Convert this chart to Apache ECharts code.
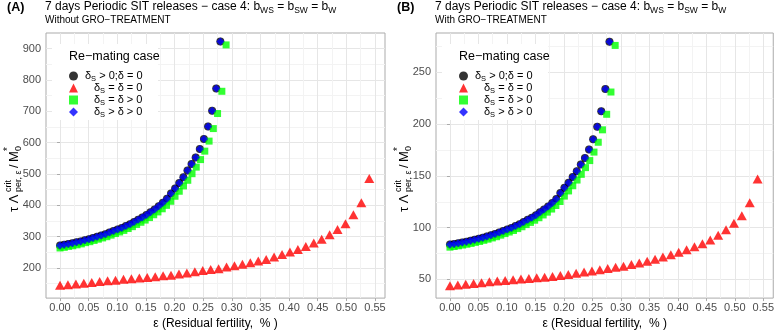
<!DOCTYPE html>
<html><head><meta charset="utf-8">
<script src="https://cdn.jsdelivr.net/npm/echarts@6/dist/echarts.min.js"></script>
<style>html,body{margin:0;padding:0;background:#fff}#c{width:777px;height:335px}</style>
</head><body><div id="c"></div>
<script>
// ---------- data ----------
const xBlue = [0.0000,0.0072,0.0144,0.0215,0.0287,0.0359,0.0431,0.0503,0.0574,0.0646,
  0.0718,0.0790,0.0862,0.0933,0.1005,0.1077,0.1149,0.1221,0.1292,0.1364,
  0.1436,0.1508,0.1579,0.1651,0.1723,0.1795,0.1867,0.1938,0.2010,0.2082,
  0.2154,0.2226,0.2297,0.2369,0.2441,0.2513,0.2585,0.2656,0.2728,0.2800];
const xGreen = [0.0000,0.0074,0.0149,0.0223,0.0297,0.0372,0.0446,0.0521,0.0595,0.0669,
  0.0744,0.0818,0.0892,0.0967,0.1041,0.1115,0.1190,0.1264,0.1338,0.1413,
  0.1487,0.1562,0.1636,0.1710,0.1785,0.1859,0.1933,0.2008,0.2082,0.2156,
  0.2231,0.2305,0.2379,0.2454,0.2528,0.2603,0.2677,0.2751,0.2826,0.2900];
const xRed = [0.0000,0.0138,0.0277,0.0415,0.0554,0.0692,0.0831,0.0969,0.1108,0.1246,
  0.1385,0.1523,0.1662,0.1800,0.1938,0.2077,0.2215,0.2354,0.2492,0.2631,
  0.2769,0.2908,0.3046,0.3185,0.3323,0.3462,0.3600,0.3738,0.3877,0.4015,
  0.4154,0.4292,0.4431,0.4569,0.4708,0.4846,0.4985,0.5123,0.5262,0.5400];

// Panel A (without GRO-treatment)
const blueA = [272,274,277,279,282,285,289,292,296,300,
  304,308,313,318,323,328,334,340,347,354,
  361,369,378,387,397,408,421,438,454,471,
  490,511,532,553,580,612,652,702,773,923];
const blackA = blueA.slice();
const greenA = [264,266,269,271,274,277,281,284,288,292,
  296,300,305,310,315,320,326,332,339,346,
  353,361,370,379,389,400,413,429,445,462,
  480,501,522,546,573,605,645,693,764,912];
const redA = [145,147,149,151,154,157,159,161,164,166,
  168,170,172,175,177,181,184,188,192,195,
  198,203,207,212,217,222,227,235,243,251,
  259,269,280,292,306,323,341,370,408,486];

// Panel B (with GRO-treatment)
const blueB = [83.7,84.3,85.0,85.7,86.5,87.3,88.3,89.2,90.3,91.4,
  92.6,93.8,95.3,96.8,98.3,99.8,101.6,103.4,105.5,107.6,
  109.7,112.1,114.8,117.5,120.5,123.9,127.8,133.5,138.5,143.5,
  149.0,154.5,161.0,167.3,175.6,185.3,197.5,212.5,234.0,279.6];
const blackB = blueB.slice();
const greenB = [81.2,81.8,82.5,83.2,84.0,84.8,85.8,86.7,87.8,88.9,
  90.1,91.3,92.8,94.3,95.8,97.3,99.1,100.9,103.0,105.1,
  107.2,109.6,112.3,115.0,118.0,121.4,125.3,130.5,135.5,140.5,
  146.0,151.5,158.0,164.8,173.0,182.5,194.5,209.5,231.0,276.0];
const redB = [44.0,44.6,45.3,46.0,46.9,47.8,48.5,49.1,49.7,50.4,
  50.9,51.6,52.2,52.8,53.8,54.7,56.0,57.2,58.2,59.4,
  60.7,61.9,62.8,64.4,66.0,67.5,69.4,71.6,73.8,76.3,
  78.8,81.6,84.4,88.2,92.6,97.9,104.4,111.6,124.1,146.9];

const xTicks = [0,0.05,0.10,0.15,0.20,0.25,0.30,0.35,0.40,0.45,0.50,0.55];
const xMinor = [0.025,0.075,0.125,0.175,0.225,0.275,0.325,0.375,0.425,0.475,0.525];
const yTicksA = [200,300,400,500,600,700,800,900];
const yMinorA = [150,250,350,450,550,650,750,850];
const yTicksB = [50,100,150,200,250];
const yMinorB = [75,125,175,225,275];

const legendNames = ['k','r','g','b'];
const legendLabels = {
  k: '{sp0| }{n|δ}{s|S}{n| > 0;δ = 0}',
  r: '{sp| }{n|δ}{s|S}{n| = δ = 0}',
  g: '{sp| }{n|δ}{s|S}{n| = δ > 0}',
  b: '{sp| }{n|δ}{s|S}{n| > δ > 0}'
};
const titleMain = '7 days Periodic SIT releases − case 4: b{s|WS} = b{s|SW} = b{s|W}';
const panels = [
  {tag:'(A)', sub:'Without GRO−TREATMENT', yMin:104, yMax:950, yT:yTicksA, yM:yMinorA,
   black:blackA, red:redA, green:greenA, blue:blueA},
  {tag:'(B)', sub:'With GRO−TREATMENT', yMin:32, yMax:288, yT:yTicksB, yM:yMinorB,
   black:blackB, red:redB, green:greenB, blue:blueB}
];

// ---------- styles ----------
const FF = "'Liberation Sans', Arial, Helvetica, sans-serif";
const GRID_MAJOR = '#e6e6e6', GRID_MINOR = '#f3f3f3', BORDER = '#ababab', TICKCOL = '#4d4d4d';
const zip = (xs, ys) => xs.map((x, i) => [x, ys[i]]);

const option = {
  animation: false,
  backgroundColor: '#fff',
  textStyle: {fontFamily: FF},
  title: [], grid: [], xAxis: [], yAxis: [], series: [], legend: [], graphic: {elements: []}
};

panels.forEach((p, k) => {
  const off = k * 390;
  option.title.push(
    {text: p.tag, left: 7 + off, top: 1, padding: 0,
     textStyle: {fontFamily: FF, fontSize: 12.5, fontWeight: 'bold', color: '#000'}},
    {text: titleMain, left: 45 + off, top: 0, padding: 0,
     textStyle: {fontFamily: FF, fontSize: 12, fontWeight: 'normal', color: '#000',
       rich: {s: {fontFamily: FF, fontSize: 8.5, lineHeight: 14, padding: [7,0,0,0], color: '#000'}}}},
    {text: p.sub, left: 45 + off, top: 15.5, padding: 0,
     textStyle: {fontFamily: FF, fontSize: 10, fontWeight: 'normal', color: '#000'}}
  );
  option.grid.push({left: 46 + off, top: 33, width: 339, height: 273, show: true,
    borderColor: BORDER, borderWidth: 1, backgroundColor: 'transparent', containLabel: false});
  const xi = k * 2, yi = k * 2;
  option.xAxis.push(
    {type: 'value', gridIndex: k, min: -0.0245, max: 0.5675, position: 'bottom',
     axisLine: {show: false},
     axisTick: {show: true, length: 3, customValues: xTicks, lineStyle: {color: BORDER}},
     axisLabel: {customValues: xTicks, formatter: v => v.toFixed(2), color: TICKCOL,
       fontSize: 11, fontFamily: FF, margin: 4},
     splitLine: {show: true, lineStyle: {color: GRID_MAJOR, width: 1}},
     name: 'ε (Residual fertility,  % )', nameLocation: 'middle', nameGap: 12,
     nameTextStyle: {fontSize: 12, fontFamily: FF, color: '#000'}},
    {type: 'value', gridIndex: k, min: -0.0245, max: 0.5675, position: 'bottom',
     axisLine: {show: false}, axisTick: {show: false, customValues: xMinor},
     axisLabel: {show: false, customValues: xMinor},
     splitLine: {show: true, lineStyle: {color: GRID_MINOR, width: 1}}}
  );
  option.yAxis.push(
    {type: 'value', gridIndex: k, min: p.yMin, max: p.yMax,
     axisLine: {show: false},
     axisTick: {show: true, length: 3, customValues: p.yT, lineStyle: {color: BORDER}},
     axisLabel: {customValues: p.yT, color: TICKCOL, fontSize: 11, fontFamily: FF, margin: 5},
     splitLine: {show: true, lineStyle: {color: GRID_MAJOR, width: 1}}},
    {type: 'value', gridIndex: k, min: p.yMin, max: p.yMax,
     axisLine: {show: false}, axisTick: {show: false, customValues: p.yM},
     axisLabel: {show: false, customValues: p.yM},
     splitLine: {show: true, lineStyle: {color: GRID_MINOR, width: 1}}}
  );
  const common = {type: 'scatter', xAxisIndex: xi, yAxisIndex: yi, silent: true};
  option.series.push(
    Object.assign({}, common, {name: 'k', data: zip(xBlue, p.black), symbol: 'circle', symbolSize: 8,
      itemStyle: {color: '#000000'}, z: 2}),
    Object.assign({}, common, {name: 'r', data: zip(xRed, p.red), symbol: 'triangle', symbolSize: [10, 9],
      itemStyle: {color: '#ff0000'}, z: 3}),
    Object.assign({}, common, {name: 'g', data: zip(xGreen, p.green), symbol: 'rect', symbolSize: 7,
      itemStyle: {color: '#00ff00'}, z: 4}),
    Object.assign({}, common, {name: 'b', data: zip(xBlue, p.blue), symbol: 'diamond', symbolSize: 8,
      itemStyle: {color: '#0000ff'}, z: 5})
  );
  option.legend.push({
    data: legendNames.map(n => ({name: n})), left: 69 + off, top: 69, orient: 'vertical',
    padding: 0, itemGap: -2, itemWidth: 9, itemHeight: 9, selectedMode: false, z: 10,
    formatter: n => legendLabels[n],
    textStyle: {fontFamily: FF, fontSize: 11, color: '#000',
      rich: {
        n: {fontFamily: FF, fontSize: 11, lineHeight: 12, color: '#000'},
        s: {fontFamily: FF, fontSize: 7.5, lineHeight: 12, padding: [6,0,0,0], color: '#000'},
        sp0: {width: 2}, sp: {width: 11}
      }}
  });
  // legend box + legend title
  option.graphic.elements.push(
    {type: 'rect', z: 6, shape: {x: 52 + off, y: 44, width: 106, height: 76}, style: {fill: '#fff'}},
    {type: 'text', z: 7, x: 69 + off, y: 57, style: {text: 'Re−mating case', font: `12.5px ${FF}`,
      fill: '#000', textAlign: 'left', textVerticalAlign: 'middle', align: 'left', verticalAlign: 'middle'}},
    // y axis title (rotated)
    {type: 'group', x: 14 + off, y: 212, rotation: Math.PI / 2, children: [
      {type: 'text', x: 0, y: 0, style: {text: 'τ Λ', font: `13px ${FF}`, fill: '#000', textAlign: 'left', textVerticalAlign: 'middle', align: 'left', verticalAlign: 'middle'}},
      {type: 'text', x: 20, y: -5, style: {text: 'crit', font: `9px ${FF}`, fill: '#000', textAlign: 'left', textVerticalAlign: 'middle', align: 'left', verticalAlign: 'middle'}},
      {type: 'text', x: 20, y: 5, style: {text: 'per, ε', font: `9px ${FF}`, fill: '#000', textAlign: 'left', textVerticalAlign: 'middle', align: 'left', verticalAlign: 'middle'}},
      {type: 'text', x: 44, y: 0, style: {text: '/', font: `13px ${FF}`, fill: '#000', textAlign: 'left', textVerticalAlign: 'middle', align: 'left', verticalAlign: 'middle'}},
      {type: 'text', x: 50, y: 0, style: {text: 'M', font: `13px ${FF}`, fill: '#000', textAlign: 'left', textVerticalAlign: 'middle', align: 'left', verticalAlign: 'middle'}},
      {type: 'text', x: 61, y: -6, style: {text: '*', font: `10px ${FF}`, fill: '#000', textAlign: 'left', textVerticalAlign: 'middle', align: 'left', verticalAlign: 'middle'}},
      {type: 'text', x: 61, y: 5, style: {text: '0', font: `9px ${FF}`, fill: '#000', textAlign: 'left', textVerticalAlign: 'middle', align: 'left', verticalAlign: 'middle'}}
    ]}
  );
});

const chart = echarts.init(document.getElementById('c'), null, {renderer: 'canvas'});
chart.setOption(option);
</script>
</body></html>
